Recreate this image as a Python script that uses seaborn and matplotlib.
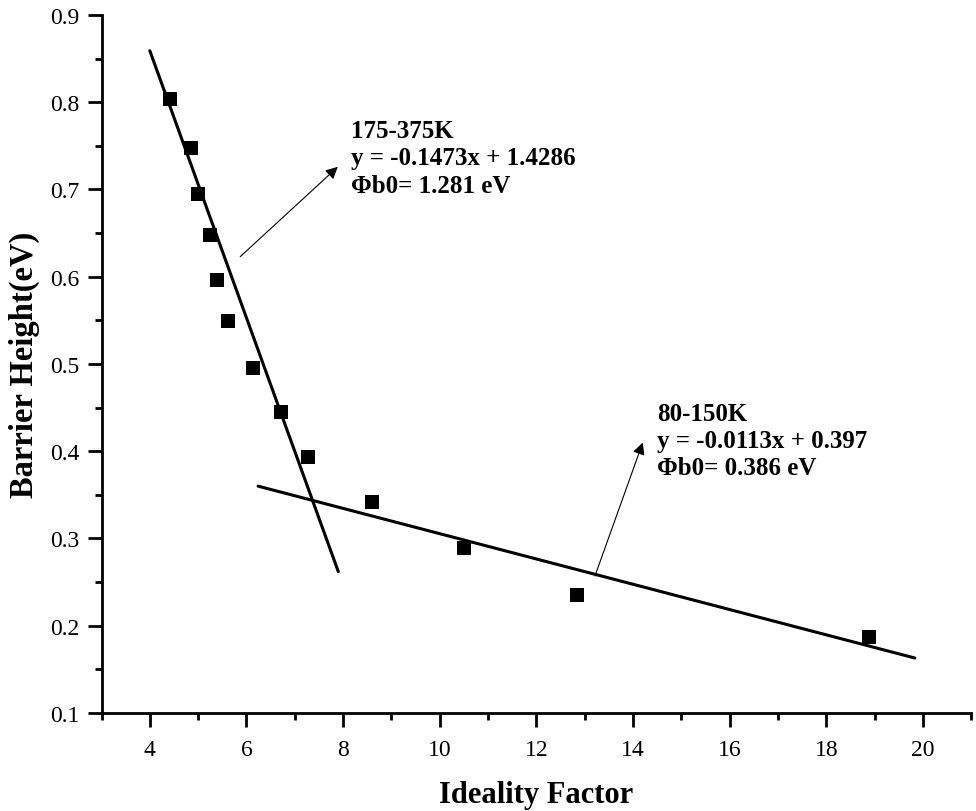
import numpy as np
import pandas as pd
import matplotlib
matplotlib.use("Agg")
import matplotlib.pyplot as plt
from matplotlib.ticker import MultipleLocator, FormatStrFormatter
import seaborn as sns

# measured points
ideality = [4.42, 4.85, 5.00, 5.25, 5.39, 5.62, 6.14, 6.71, 7.27, 8.60, 10.50, 12.84, 18.88]
barrier = [0.804, 0.748, 0.695, 0.648, 0.596, 0.549, 0.495, 0.445, 0.393, 0.342, 0.289, 0.235, 0.187]

# fitted lines as drawn (end points)
fit_high_x = [4.0, 7.9]
fit_high_y = [0.859, 0.262]
fit_low_x = [6.24, 19.83]
fit_low_y = [0.360, 0.163]

label_high = "175-375K\ny = -0.1473x + 1.4286\nΦb0= 1.281 eV"
label_low = "80-150K\ny = -0.0113x + 0.397\nΦb0= 0.386 eV"

df = pd.DataFrame({"n": ideality, "phi": barrier})

sns.set_theme(style="ticks")
plt.rcParams['font.family'] = ['Liberation Serif', 'DejaVu Serif']
plt.rcParams['text.color'] = 'black'
plt.rcParams['axes.labelcolor'] = 'black'

fig = plt.figure(figsize=(9.76, 8.12), dpi=100)
ax = fig.add_axes([0.104, 0.1207, 0.8913, 0.8596])

sns.lineplot(x=fit_high_x, y=fit_high_y, ax=ax, color='black', linewidth=2.2)
sns.lineplot(x=fit_low_x, y=fit_low_y, ax=ax, color='black', linewidth=2.2)
sns.scatterplot(data=df, x="n", y="phi", ax=ax, marker='s', s=95,
                color='black', edgecolor='black', linewidth=0, zorder=5)

# annotation arrows
ax.annotate("", xy=(7.89, 0.726), xytext=(5.87, 0.623),
            arrowprops=dict(arrowstyle='-|>', color='black', lw=0.8,
                            mutation_scale=18, shrinkA=0, shrinkB=0))
ax.annotate("", xy=(14.20, 0.410), xytext=(13.21, 0.257),
            arrowprops=dict(arrowstyle='-|>', color='black', lw=0.8,
                            mutation_scale=18, shrinkA=0, shrinkB=0))

ax.text(8.16, 0.781, label_high, fontsize=18, fontweight='bold',
        va='top', ha='left', linespacing=1.25)
ax.text(14.49, 0.456, label_low, fontsize=18, fontweight='bold',
        va='top', ha='left', linespacing=1.2)

ax.set_xlim(3, 21)
ax.set_ylim(0.1, 0.9)
ax.xaxis.set_major_locator(MultipleLocator(2))
ax.xaxis.set_minor_locator(MultipleLocator(1))
ax.yaxis.set_major_locator(MultipleLocator(0.1))
ax.yaxis.set_minor_locator(MultipleLocator(0.05))
ax.yaxis.set_major_formatter(FormatStrFormatter('%.1f'))

ax.set_xlabel('Ideality Factor', fontsize=22, fontweight='bold')
ax.set_ylabel('Barrier Height(eV)', fontsize=23.5, fontweight='bold')
ax.xaxis.set_label_coords(0.5, -0.096)
ax.yaxis.set_label_coords(-0.071, 0.5)

sns.despine(ax=ax)
for sp in ['left', 'bottom']:
    ax.spines[sp].set_linewidth(2)
    ax.spines[sp].set_color('black')
ax.tick_params(which='major', direction='out', length=10, width=2,
               labelsize=17, colors='black')
ax.tick_params(axis='x', which='major', pad=9)
ax.tick_params(axis='y', which='major', pad=6)
ax.tick_params(which='minor', direction='out', length=5, width=2, colors='black')

fig.savefig('out.png', dpi=100)
